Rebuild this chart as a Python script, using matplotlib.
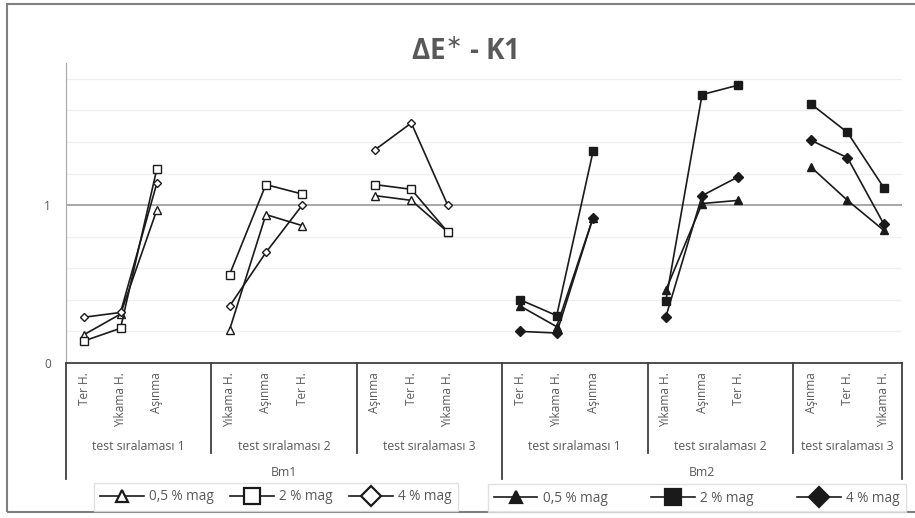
import numpy as np
import matplotlib
matplotlib.use('Agg')
import matplotlib.pyplot as plt
import matplotlib.transforms as mtransforms
from matplotlib.lines import Line2D
from matplotlib.patches import Rectangle

plt.rcParams['font.family'] = ['Open Sans', 'DejaVu Sans']

# tick labels per test group (3 groups per Bm)
group_labels = [['Ter H.', 'Yıkama H.', 'Aşınma'],
                ['Yıkama H.', 'Aşınma', 'Ter H.'],
                ['Aşınma', 'Ter H.', 'Yıkama H.']]
test_labels = ['test sıralaması 1', 'test sıralaması 2', 'test sıralaması 3']
bm_labels = ['Bm1', 'Bm2']

# values, 9 per series (3 test groups x 3 tests)
bm1_05 = [0.18, 0.31, 0.97, 0.21, 0.94, 0.87, 1.06, 1.03, 0.83]
bm1_2 = [0.14, 0.22, 1.23, 0.56, 1.13, 1.07, 1.13, 1.10, 0.83]
bm1_4 = [0.29, 0.32, 1.14, 0.36, 0.70, 1.00, 1.35, 1.52, 1.00]
bm2_05 = [0.36, 0.23, 0.92, 0.46, 1.01, 1.03, 1.24, 1.03, 0.84]
bm2_2 = [0.40, 0.30, 1.34, 0.39, 1.70, 1.76, 1.64, 1.46, 1.11]
bm2_4 = [0.20, 0.19, 0.92, 0.29, 1.06, 1.18, 1.41, 1.30, 0.88]

TXT = '#595959'
INK = '#1a1a1a'
W, H = 915, 518

def fy(py):
    return 1 - py / H

fig = plt.figure(figsize=(9.15, 5.18), dpi=100)
fig.patches.append(Rectangle((7 / W, fy(512)), 1.2, (512 - 4) / H, transform=fig.transFigure,
                             fill=False, edgecolor='#7f7f7f', lw=1.5))

ax = fig.add_axes([66 / W, fy(363), (902 - 66) / W, (363 - 63) / H])
ax.set_xlim(-0.5, 22.5)
ax.set_ylim(0, 1.9)

for v in np.arange(0.2, 1.81, 0.2):
    if abs(v - 1) < 1e-6:
        ax.axhline(v, color='#a0a0a0', lw=1.3, zorder=1)
    else:
        ax.axhline(v, color='#f0f0f0', lw=1, zorder=1)

# x positions: 4 slots per group, last slot blank
def positions(bm):
    xs = []
    for g in range(3):
        base = (bm * 3 + g) * 4
        xs += [base, base + 1, base + 2]
    return np.array(xs)

def draw(vals, bm, marker, filled, ms):
    xs = positions(bm)
    for g in range(3):
        ax.plot(xs[g * 3:g * 3 + 3], vals[g * 3:g * 3 + 3], color=INK, lw=1.2,
                marker=marker, ms=ms, mfc=INK if filled else 'white',
                mec=INK, mew=1.0, zorder=3)

draw(bm1_05, 0, '^', False, 5.5)
draw(bm1_2, 0, 's', False, 5.5)
draw(bm1_4, 0, 'D', False, 4.2)
draw(bm2_05, 1, '^', True, 5.5)
draw(bm2_2, 1, 's', True, 5.5)
draw(bm2_4, 1, 'D', True, 4.8)

for s in ['top', 'right']:
    ax.spines[s].set_visible(False)
ax.spines['left'].set_color('#a6a6a6')
ax.spines['bottom'].set_color('#404040')
ax.spines['bottom'].set_linewidth(1.3)
ax.set_xticks([])
ax.set_yticks([0, 1])
ax.set_yticklabels(['0', '1'], color=TXT, fontsize=8.5)
ax.tick_params(axis='y', length=0, pad=11)

tr = mtransforms.blended_transform_factory(ax.transData, fig.transFigure)

for bm in range(2):
    xs = positions(bm)
    for g in range(3):
        for k in range(3):
            ax.text(xs[g * 3 + k], fy(372), group_labels[g][k], rotation=90, ha='center',
                    va='top', fontsize=8.5, color=TXT, transform=tr)
        cx = xs[g * 3] + 1 if (bm == 1 and g == 2) else xs[g * 3] + 1.5
        ax.text(cx, fy(446), test_labels[g], ha='center', va='center', fontsize=8.8,
                color=TXT, transform=tr)
    ax.text(5.5 if bm == 0 else 17, fy(472), bm_labels[bm], ha='center',
            va='center', fontsize=8.8, color=TXT, transform=tr)

for x in [3.5, 7.5, 15.5, 19.5]:
    ax.add_line(Line2D([x, x], [fy(363), fy(453)], transform=tr, color='#404040', lw=1.3,
                       clip_on=False))
for x in [-0.5, 11.5, 22.5]:
    ax.add_line(Line2D([x, x], [fy(363), fy(479)], transform=tr, color='#404040', lw=1.3,
                       clip_on=False))

fig.text(464 / W, fy(53), r'ΔE$^{\ast}$ - K1', ha='center',
         va='center', fontsize=20, fontweight='bold', color=TXT)

def legend_handles(filled):
    fc = INK if filled else 'white'
    return [Line2D([], [], color=INK, lw=1.2, marker=m, ms=ms, mfc=fc, mec=INK, mew=1.6)
            for m, ms in [('^', 9), ('s', 11), ('D', 10)]]

labels = ['0,5 % mag', '2 % mag', '4 % mag']
leg1 = fig.legend(legend_handles(False), labels, ncol=3, loc='center',
                  bbox_to_anchor=(276 / W, fy(497)), fontsize=9.8, frameon=True, fancybox=False,
                  edgecolor='#d9d9d9', handlelength=3.2, columnspacing=1.2, handletextpad=0.4,
                  borderpad=0.45, labelcolor=TXT)
leg2 = fig.legend(legend_handles(True), labels, ncol=3, loc='center',
                  bbox_to_anchor=(697 / W, fy(498)), fontsize=9.8, frameon=True, fancybox=False,
                  edgecolor='#d9d9d9', handlelength=3.2, columnspacing=3.2, handletextpad=0.4,
                  borderpad=0.45, labelcolor=TXT)

fig.savefig('out.png', dpi=100)
